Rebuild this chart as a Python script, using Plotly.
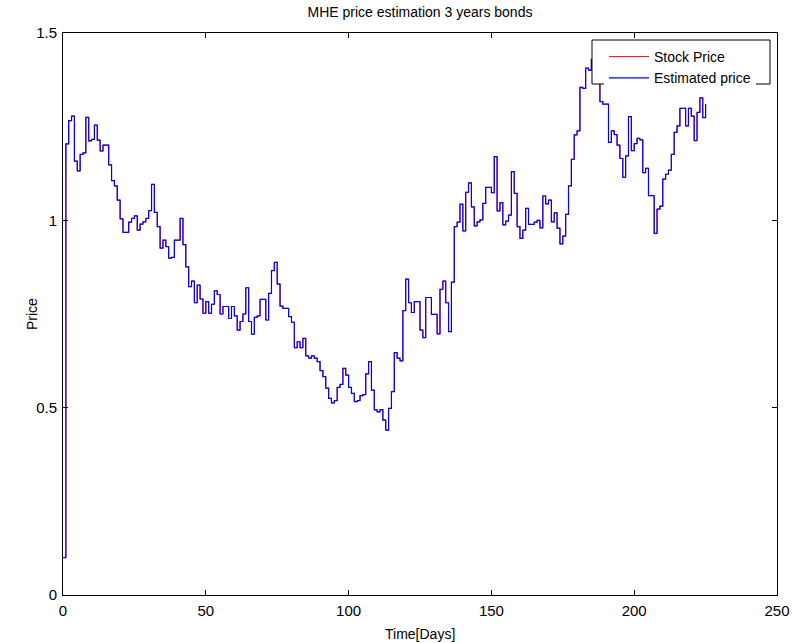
import plotly.graph_objects as go

days = list(range(0, 226))

stock_price = [
    0.100, 1.204, 1.266, 1.278, 1.158, 1.132, 1.176, 1.180, 1.275, 1.212,
    1.216, 1.254, 1.214, 1.185, 1.201, 1.201, 1.148, 1.106, 1.092, 1.054,
    1.004, 0.968, 0.968, 0.995, 1.005, 1.012, 0.974, 0.990, 0.996, 1.005,
    1.026, 1.096, 1.021, 0.983, 0.926, 0.947, 0.930, 0.899, 0.901, 0.947,
    0.947, 1.005, 0.935, 0.876, 0.823, 0.838, 0.780, 0.827, 0.790, 0.752,
    0.783, 0.752, 0.776, 0.812, 0.802, 0.750, 0.770, 0.770, 0.738, 0.770,
    0.745, 0.707, 0.730, 0.750, 0.820, 0.730, 0.696, 0.741, 0.745, 0.789,
    0.789, 0.734, 0.805, 0.866, 0.888, 0.830, 0.771, 0.765, 0.765, 0.743,
    0.728, 0.660, 0.676, 0.660, 0.685, 0.638, 0.632, 0.638, 0.632, 0.623,
    0.599, 0.583, 0.552, 0.525, 0.513, 0.519, 0.554, 0.562, 0.605, 0.587,
    0.554, 0.538, 0.516, 0.519, 0.532, 0.535, 0.590, 0.623, 0.547, 0.494,
    0.489, 0.495, 0.467, 0.440, 0.498, 0.543, 0.647, 0.632, 0.625, 0.759,
    0.843, 0.780, 0.754, 0.783, 0.783, 0.707, 0.687, 0.794, 0.794, 0.749,
    0.749, 0.697, 0.816, 0.838, 0.780, 0.703, 0.835, 0.983, 0.995, 1.043,
    0.972, 1.075, 1.100, 1.036, 0.985, 0.996, 1.001, 1.045, 1.088, 1.088,
    1.074, 1.170, 1.025, 1.047, 0.988, 0.998, 1.014, 1.130, 1.072, 0.983,
    0.952, 0.974, 1.032, 0.989, 0.989, 0.995, 1.000, 0.980, 1.065, 1.044,
    1.054, 0.996, 1.020, 0.979, 0.937, 0.958, 1.016, 1.092, 1.163, 1.228,
    1.239, 1.355, 1.352, 1.406, 1.401, 1.430, 1.450, 1.400, 1.317, 1.310,
    1.310, 1.208, 1.239, 1.229, 1.201, 1.165, 1.115, 1.172, 1.277, 1.186,
    1.205, 1.219, 1.215, 1.127, 1.139, 1.066, 1.066, 0.965, 1.030, 1.038,
    1.110, 1.123, 1.134, 1.176, 1.235, 1.252, 1.299, 1.299, 1.252, 1.299,
    1.278, 1.213, 1.288, 1.327, 1.274, 1.310,
]

estimated_price = list(stock_price)

x_ticks = [0, 50, 100, 150, 200, 250]
y_ticks = [0, 0.5, 1, 1.5]
y_tick_labels = ["0", "0.5", "1", "1.5"]

FONT = "Liberation Sans, Arial, Helvetica, sans-serif"

# pixel geometry of the plot area (for converting layout positions)
L, R, T, B = 63, 777, 33, 595
W_PX, H_PX = R - L, B - T


def px_x(x):
    return (x - L) / W_PX


def px_y(y):
    return (B - y) / H_PX


fig = go.Figure()
fig.add_trace(go.Scatter(
    x=days, y=stock_price, mode="lines", name="Stock Price",
    line=dict(color="#FF0000", width=1, shape="hv"),
))
fig.add_trace(go.Scatter(
    x=days, y=estimated_price, mode="lines", name="Estimated price",
    line=dict(color="#0000FF", width=1.2, shape="hv"),
))

axis_common = dict(
    showgrid=False, zeroline=False, showline=True, linecolor="black",
    linewidth=1, mirror="ticks", ticks="inside", ticklen=5,
    tickcolor="black", tickfont=dict(family=FONT, size=15, color="black"),
    automargin=False,
)

fig.update_layout(
    width=792, height=643,
    margin=dict(l=L, r=792 - R, t=T, b=643 - B),
    paper_bgcolor="white", plot_bgcolor="white",
    font=dict(family=FONT, size=15, color="black"),
    title=dict(text="MHE price estimation 3 years bonds", x=0.5, xref="paper",
               y=1 - 12 / 643, yref="container", yanchor="middle",
               automargin=False,
               font=dict(family=FONT, size=14, color="black")),
    xaxis=dict(range=[0, 250], tickvals=x_ticks, ticklabelstandoff=2,
               **axis_common),
    yaxis=dict(range=[0, 1.5], tickvals=y_ticks, ticktext=y_tick_labels,
               ticklabelstandoff=2, **axis_common),
    legend=dict(x=px_x(604), y=px_y(41), xanchor="left", yanchor="top",
                bgcolor="white", borderwidth=0,
                font=dict(family=FONT, size=14, color="black"),
                tracegroupgap=0, itemwidth=40),
    showlegend=True,
    shapes=[
        dict(type="rect", xref="paper", yref="paper",
             x0=px_x(592), x1=px_x(770), y0=px_y(84), y1=px_y(40),
             fillcolor="white", line=dict(color="black", width=1),
             layer="above"),
    ],
    annotations=[
        dict(text="Time[Days]", xref="paper", yref="paper",
             x=0.5, y=px_y(634), xanchor="center", yanchor="middle",
             showarrow=False, font=dict(family=FONT, size=14, color="black")),
        dict(text="Price", xref="paper", yref="paper", textangle=-90,
             x=px_x(32), y=0.5, xanchor="center", yanchor="middle",
             showarrow=False, font=dict(family=FONT, size=14, color="black")),
    ],
)

fig.write_html(
    "out.html",
    config={"displayModeBar": False},
    post_script="document.body.style.margin='0';document.body.style.padding='0';",
)
